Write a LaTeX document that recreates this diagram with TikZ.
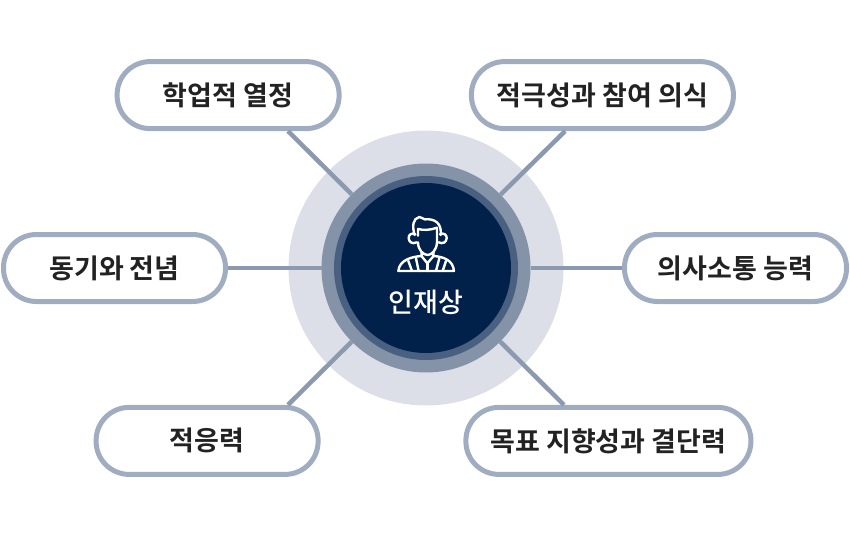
\documentclass[tikz,border=0pt]{standalone}
\usepackage{fontspec}
\usetikzlibrary{positioning}
\setmainfont{Noto Sans CJK KR Medium}[BoldFont={Noto Sans CJK KR Bold}]
\definecolor{halo}{HTML}{DCDFE7}
\definecolor{ringout}{HTML}{8493A8}
\definecolor{ringin}{HTML}{4A6080}
\definecolor{navy}{HTML}{01204A}
\definecolor{pillline}{HTML}{A0ADC0}
\definecolor{spoke}{HTML}{8C9AB0}
\definecolor{ink}{HTML}{222222}
\tikzset{pill/.style={rectangle,draw=pillline,fill=white,line width=5pt,rounded corners=33pt,minimum height=67pt,minimum width=222pt,text=ink,font=\fontsize{27}{30}\selectfont\bfseries,inner sep=0pt}}
\tikzset{disc/.style={circle,inner sep=0pt,outer sep=0pt}}
\tikzset{spokeline/.style={draw=spoke,line width=4.5pt}}
\tikzset{iconline/.style={draw=white,line width=2.4pt,line join=round,line cap=round}}

\begin{document}
\begin{tikzpicture}[x=1pt,y=-1pt]
        \useasboundingbox (0,0) rectangle (850,535);

        \node[disc,fill=halo,minimum size=275pt] (halo) at (426,268) {};
        \node[disc,fill=ringout,minimum size=209pt] (ring) at (halo.center) {};
        \node[disc,fill=ringin,minimum size=184pt] (inner) at (halo.center) {};
        \node[disc,fill=navy,minimum size=170pt] (core) at (halo.center) {};
        \node[text=white,font=\fontsize{27}{30}\selectfont,inner sep=0pt] (title) at ([yshift=-34pt]core.center) {인재상};

        \node[pill,above left=63pt and 10.5pt of ring] (learn) {학업적 열정};
        \node[pill,minimum width=262pt,above right=63pt and -31pt of ring] (active) {적극성과 참여 의식};
        \node[pill,left=93.5pt of ring] (motive) {동기와 전념};
        \node[pill,right=91.5pt of ring] (comm) {의사소통 능력};
        \node[pill,below left=63pt and 31.5pt of ring] (adapt) {적응력};
        \node[pill,minimum width=285pt,below right=63pt and -36.5pt of ring] (goal) {목표 지향성과 결단력};

        \draw[spokeline] (ring) to (learn.-31);
        \draw[spokeline] (ring) to (active.-136);
        \draw[spokeline] (ring) to (motive);
        \draw[spokeline] (ring) to (comm);
        \draw[spokeline] (ring) to (adapt.24.2);
        \draw[spokeline] (ring) to (goal.141);

        % person icon
        \begin{scope}[shift={(380,205)},x=.3333pt,y=-.3333pt,iconline]
            \draw (104,90) .. controls (96,65) and (98,40) .. (118,36) .. controls (124,35) and (126,42) .. (134,43) .. controls (165,40) and (186,55) .. (182,90);
            \draw (114,92) -- (114,72) .. controls (130,76) and (150,76) .. (171,68) -- (171,112) .. controls (170,135) and (155,150) .. (143,150) .. controls (130,150) and (114,135) .. (114,112);
            \draw (106,88) .. controls (94,82) and (85,90) .. (86,100) .. controls (87,112) and (98,118) .. (110,112);
            \draw (180,88) .. controls (192,82) and (201,90) .. (200,100) .. controls (199,112) and (188,118) .. (176,112);
            \draw (125,140) -- (125,153) .. controls (95,155) and (58,165) .. (55,198) -- (222,198) .. controls (219,165) and (190,155) .. (160,153) -- (160,140);
            \draw (85,168) -- (96,198);
            \draw (108,160) -- (116,198);
            \draw (126,155) -- (142,175) -- (159,155);
            \draw (142,175) -- (142,198);
            \draw (178,160) -- (168,198);
            \draw (198,168) -- (188,198);
        \end{scope}
\end{tikzpicture}
\end{document}
